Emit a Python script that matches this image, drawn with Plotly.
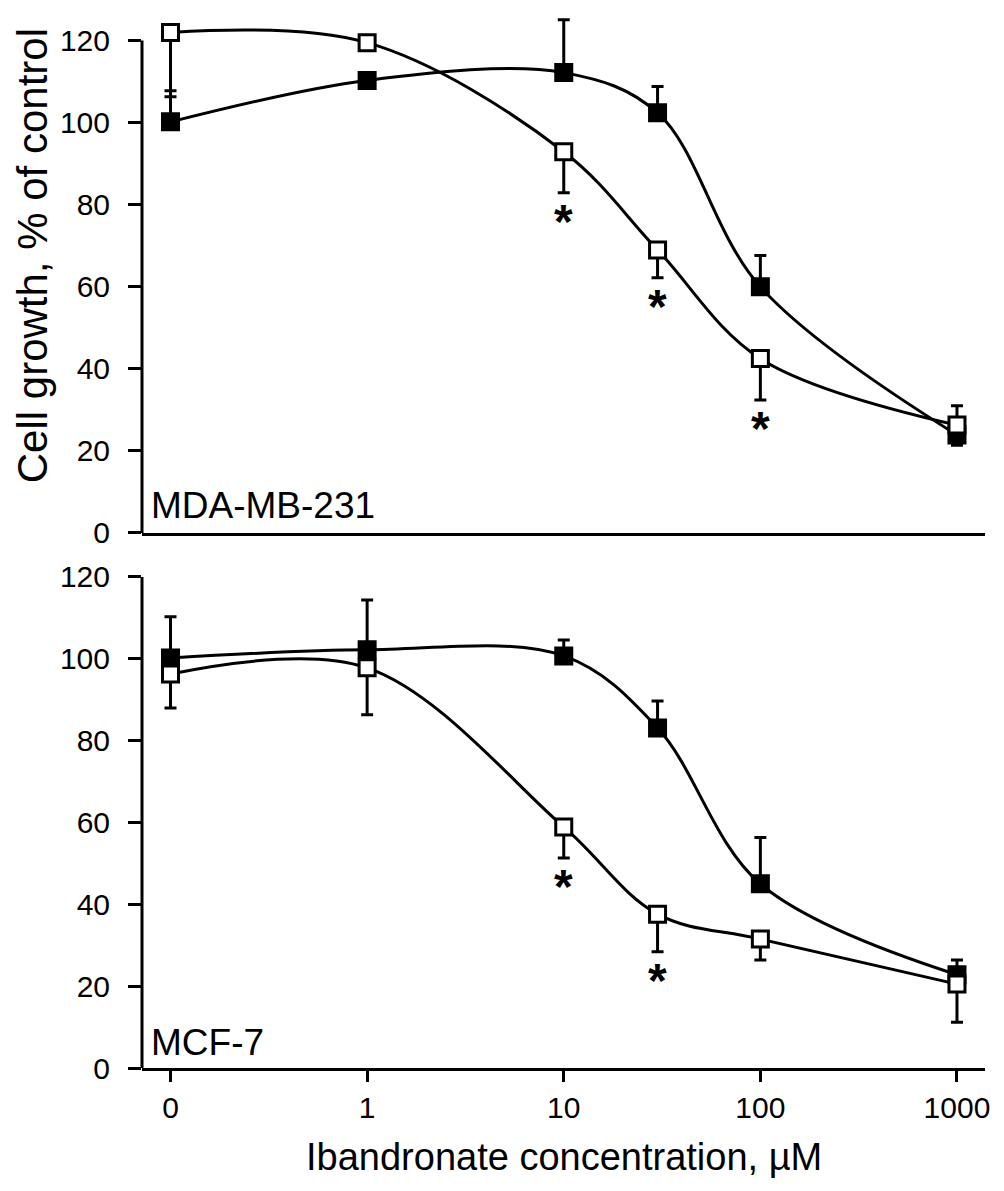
import math
import plotly.graph_objects as go

# ---------------- data ----------------
conc = [0, 1, 10, 30, 100, 1000]          # Ibandronate concentration, µM
tick_vals_conc = [0, 1, 10, 100, 1000]
tick_text = ["0", "1", "10", "100", "1000"]
y_ticks = [0, 20, 40, 60, 80, 100, 120]

# MDA-MB-231 (top panel)
mda_filled = [100.2, 110.3, 112.2, 102.4, 60.0, 23.9]
mda_filled_err_up = [7.6, 0.0, 12.9, 6.4, 7.6, 0.0]
mda_filled_err_dn = [0.0, 0.0, 0.0, 0.0, 0.0, 2.5]
mda_open = [122.0, 119.5, 92.9, 69.0, 42.5, 26.3]
mda_open_err_up = [0.0, 0.0, 0.0, 0.0, 0.0, 4.7]
mda_open_err_dn = [15.7, 0.0, 10.0, 6.8, 10.1, 0.0]
mda_sig = [10, 30, 100]

# MCF-7 (bottom panel)
mcf_filled = [100.2, 102.2, 100.7, 83.1, 45.0, 22.8]
mcf_filled_err_up = [10.1, 12.2, 3.9, 6.6, 11.3, 3.6]
mcf_filled_err_dn = [0, 0, 0, 0, 0, 0]
mcf_open = [96.3, 97.8, 58.9, 37.6, 31.5, 20.5]
mcf_open_err_up = [0, 0, 0, 0, 0, 0]
mcf_open_err_dn = [8.3, 11.5, 7.6, 9.2, 5.1, 9.3]
mcf_sig = [10, 30]

panel_labels = ["MDA-MB-231", "MCF-7"]

# ---------------- helpers ----------------
ZERO_POS = 0.1  # position of the "0" concentration on the log axis


def pos(c):
    return c if c > 0 else ZERO_POS


xpos = [pos(c) for c in conc]
tickpos = [pos(c) for c in tick_vals_conc]

FONT = "Arial, Liberation Sans, sans-serif"
fig = go.Figure()

panels = [
    ("x", "y", mda_filled, mda_filled_err_up, mda_filled_err_dn,
     mda_open, mda_open_err_up, mda_open_err_dn, mda_sig),
    ("x2", "y2", mcf_filled, mcf_filled_err_up, mcf_filled_err_dn,
     mcf_open, mcf_open_err_up, mcf_open_err_dn, mcf_sig),
]

for xa, ya, fv, fup, fdn, ov, oup, odn, sig in panels:
    # fitted curves
    for vals in (fv, ov):
        fig.add_trace(go.Scatter(
            x=xpos, y=vals, mode="lines", xaxis=xa, yaxis=ya,
            line=dict(color="black", width=3, shape="spline", smoothing=1.0),
            showlegend=False, hoverinfo="skip"))
    # filled squares
    fig.add_trace(go.Scatter(
        x=xpos, y=fv, mode="markers", xaxis=xa, yaxis=ya, cliponaxis=False,
        marker=dict(symbol="square", size=17, color="black",
                    line=dict(color="black", width=2)),
        error_y=dict(type="data", symmetric=False, array=fup, arrayminus=fdn,
                     color="black", thickness=3, width=6),
        showlegend=False))
    # open squares
    fig.add_trace(go.Scatter(
        x=xpos, y=ov, mode="markers", xaxis=xa, yaxis=ya, cliponaxis=False,
        marker=dict(symbol="square", size=16, color="white",
                    line=dict(color="black", width=3)),
        error_y=dict(type="data", symmetric=False, array=oup, arrayminus=odn,
                     color="black", thickness=3, width=6),
        showlegend=False))
    # significance asterisks below the open-square error bars
    for c in sig:
        i = conc.index(c)
        fig.add_annotation(
            x=math.log10(pos(c)), y=ov[i] - odn[i], xref=xa, yref=ya,
            text="<b>*</b>", showarrow=False, yanchor="top", yshift=0,
            font=dict(family=FONT, size=48, color="black"))
    # y axis line only up to 120
    fig.add_shape(type="line", xref=f"{xa} domain", yref=ya,
                  x0=0, x1=0, y0=0, y1=max(y_ticks),
                  line=dict(color="black", width=3))

axis_common = dict(
    type="log", range=[-1.145, 3.1425], tickvals=tickpos, ticktext=tick_text,
    showline=True, linecolor="black", linewidth=3, showgrid=False,
    zeroline=False, tickfont=dict(family=FONT, size=30, color="black"))
yaxis_common = dict(
    range=[0, 126], tickvals=y_ticks,
    showline=False, showgrid=False,
    zeroline=False, ticks="outside", ticklen=13, tickwidth=3,
    tickcolor="black", ticklabelstandoff=12,
    tickfont=dict(family=FONT, size=30, color="black"))

# the page body adds an 8 px offset, so the figure is 8 px smaller here
fig.update_layout(
    width=996, height=1183,
    margin=dict(l=134, r=19, t=8, b=123),
    paper_bgcolor="white", plot_bgcolor="white",
    xaxis=dict(**axis_common, domain=[0, 1], anchor="y", ticks="",
               showticklabels=False, matches="x2"),
    yaxis=dict(**yaxis_common, domain=[0.50856, 1.0], anchor="x"),
    xaxis2=dict(**axis_common, domain=[0, 1], anchor="y2", ticks="outside",
                ticklen=11, tickwidth=3, tickcolor="black"),
    yaxis2=dict(**yaxis_common, domain=[0.0, 0.4901], anchor="x2"),
)

# panel labels
fig.add_annotation(x=0.0083, y=0.5351, xref="paper", yref="paper",
                   text=panel_labels[0], showarrow=False, xanchor="left",
                   yanchor="middle", font=dict(family=FONT, size=37, color="black"))
fig.add_annotation(x=0.0083, y=0.0242, xref="paper", yref="paper",
                   text=panel_labels[1], showarrow=False, xanchor="left",
                   yanchor="middle", font=dict(family=FONT, size=37, color="black"))

# axis titles
fig.add_annotation(x=0.5, y=-0.0846, xref="paper", yref="paper",
                   text="Ibandronate concentration, µM", showarrow=False,
                   xanchor="center", yanchor="middle",
                   font=dict(family=FONT, size=38, color="black"))
fig.add_annotation(x=-0.1290, y=0.7719, xref="paper", yref="paper",
                   text="Cell growth, % of control", showarrow=False,
                   textangle=-90, xanchor="center", yanchor="middle",
                   font=dict(family=FONT, size=42, color="black"))

fig.write_html("out.html")
